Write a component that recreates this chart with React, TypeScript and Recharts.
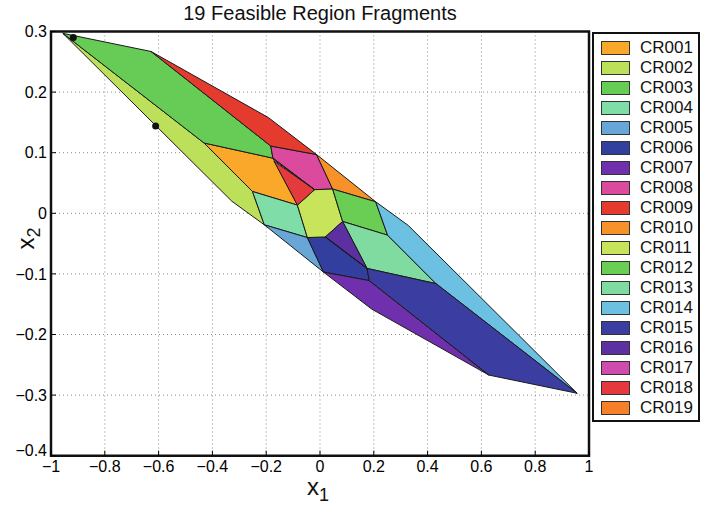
import React from "react";
import {
  ScatterChart,
  Scatter,
  XAxis,
  YAxis,
  CartesianGrid,
  ReferenceArea,
} from "recharts";

const regionNames = [
  "CR001", "CR002", "CR003", "CR004", "CR005", "CR006", "CR007",
  "CR008", "CR009", "CR010", "CR011", "CR012", "CR013", "CR014",
  "CR015", "CR016", "CR017", "CR018", "CR019",
];

const regionColors = [
  "#F9A829", "#BCE05A", "#66CC55", "#7FDDA8", "#68A6D8", "#333F9E", "#7030AE",
  "#DC4A9E", "#E53B2E", "#F7922A", "#C8E45A", "#6ACE55", "#80DBA0", "#6CC0E2",
  "#3C3DA0", "#5D30A2", "#CF4BAE", "#E53A3D", "#F58029",
];

// polygon vertices [x1, x2]
const cr001 = [[-0.431, 0.116], [-0.175, 0.091], [-0.084, 0.0135], [-0.251, 0.036]];
const cr002 = [[-0.956, 0.297], [-0.431, 0.116], [-0.251, 0.036], [-0.207, -0.019], [-0.328, 0.02]];
const cr003 = [[-0.956, 0.297], [-0.628, 0.267], [-0.183, 0.111], [-0.175, 0.091], [-0.431, 0.116]];
const cr004 = [[-0.251, 0.036], [-0.084, 0.0135], [-0.047, -0.04], [-0.207, -0.019]];
const cr005 = [[-0.207, -0.019], [-0.047, -0.04], [0.013, -0.097]];
const cr006 = [[-0.047, -0.04], [0.02, -0.039], [0.175, -0.091], [0.183, -0.111], [0.013, -0.097]];
const cr007 = [[0.013, -0.097], [0.183, -0.111], [0.628, -0.267], [0.192, -0.158]];
const cr008 = [[-0.183, 0.111], [-0.013, 0.097], [0.047, 0.04], [-0.02, 0.039], [-0.175, 0.091]];
const cr009 = [[-0.628, 0.267], [-0.192, 0.158], [-0.013, 0.097], [-0.183, 0.111]];
const cr010 = [[-0.013, 0.097], [0.207, 0.019], [0.047, 0.04]];
const cr011 = [[-0.02, 0.039], [0.047, 0.04], [0.084, -0.0135], [0.02, -0.039], [-0.047, -0.04], [-0.084, 0.0135]];
const cr012 = [[0.047, 0.04], [0.207, 0.019], [0.251, -0.036], [0.084, -0.0135]];
const cr013 = [[0.084, -0.0135], [0.251, -0.036], [0.431, -0.116], [0.175, -0.091]];
const cr014 = [[0.207, 0.019], [0.328, -0.02], [0.956, -0.297], [0.431, -0.116], [0.251, -0.036]];
const cr015 = [[0.183, -0.111], [0.175, -0.091], [0.431, -0.116], [0.956, -0.297], [0.628, -0.267]];
const cr016 = [[0.02, -0.039], [0.084, -0.0135], [0.175, -0.091]];
const cr017 = [[0.02, -0.039], [0.175, -0.091], [0.166, -0.088]];
const cr018 = [[-0.171, 0.086], [-0.02, 0.039], [-0.084, 0.0135]];
const cr019 = [[-0.175, 0.091], [-0.02, 0.039], [-0.168, 0.087]];

const regionVertices = [
  cr001, cr002, cr003, cr004, cr005, cr006, cr007, cr008, cr009, cr010,
  cr011, cr012, cr013, cr014, cr015, cr016, cr017, cr018, cr019,
];

const trajectory = [[-0.917, 0.29], [-0.611, 0.144]];

const xTicks = [-1, -0.8, -0.6, -0.4, -0.2, 0, 0.2, 0.4, 0.6, 0.8, 1];
const yTicks = [-0.4, -0.3, -0.2, -0.1, 0, 0.1, 0.2, 0.3];

const FONT = "'Liberation Sans', Arial, Helvetica, sans-serif";

const fmt = (v: number) => (v < 0 ? "\u2212" + Math.abs(v) : String(v));

const polygonLine = (fill: string) => (props: any) => {
  const pts = (props.points || [])
    .map((p: any) => `${p.x},${p.y}`)
    .join(" ");
  return (
    <polygon
      points={pts}
      fill={fill}
      stroke="#1a1a1a"
      strokeWidth={1}
      strokeLinejoin="round"
    />
  );
};

const noDot = () => <g />;

// y tick: the lowest label sits a bit higher, like the reference
const YTick = (props: any) => {
  const { x, y, payload } = props;
  const shift = payload.value === -0.4 ? -5 : 0;
  return (
    <text
      x={x}
      y={y + shift}
      dy="0.355em"
      textAnchor="end"
      fill="#000"
      fontSize={16}
      fontFamily={FONT}
    >
      {fmt(payload.value)}
    </text>
  );
};

export default function App() {
  return (
    <div
      style={{
        position: "absolute",
        left: 0,
        top: 0,
        width: 701,
        height: 506,
        background: "#fff",
        fontFamily: FONT,
      }}
    >
      <div
        style={{
          position: "absolute",
          left: 120,
          width: 400,
          top: 2,
          textAlign: "center",
          fontSize: 20,
          color: "#111",
        }}
      >
        19 Feasible Region Fragments
      </div>

      <ScatterChart
        width={701}
        height={506}
        margin={{ top: 31.5, right: 112, bottom: 10.3, left: 6 }}
        style={{ position: "absolute", left: 0, top: 0 }}
      >
        <CartesianGrid stroke="#8a8a8a" strokeDasharray="1 3" />
        <XAxis
          type="number"
          dataKey="x"
          domain={[-1, 1]}
          ticks={xTicks}
          tickFormatter={fmt}
          axisLine={false}
          tickLine={{ stroke: "#000" }}
          tickSize={-5}
          tickMargin={10}
          height={40}
          interval={0}
          allowDataOverflow
          tick={{ fill: "#000", fontSize: 16, fontFamily: FONT }}
        />
        <YAxis
          type="number"
          dataKey="y"
          domain={[-0.4, 0.3]}
          ticks={yTicks}
          axisLine={false}
          tickLine={{ stroke: "#000" }}
          tickSize={-5}
          tickMargin={9}
          width={45}
          interval={0}
          allowDataOverflow
          tick={<YTick />}
        />
        {regionVertices.map((verts, i) => (
          <Scatter
            key={regionNames[i]}
            name={regionNames[i]}
            data={verts.map(([x, y]) => ({ x, y }))}
            fill={regionColors[i]}
            line={polygonLine(regionColors[i])}
            lineType="joint"
            shape={noDot}
            isAnimationActive={false}
          />
        ))}
        <Scatter
          name="trajectory"
          data={trajectory.map(([x, y]) => ({ x, y }))}
          fill="#000"
          shape={(p: any) => <circle cx={p.cx} cy={p.cy} r={3.5} fill="#111" />}
          isAnimationActive={false}
        />
        <ReferenceArea
          x1={-1}
          x2={1}
          y1={-0.4}
          y2={0.3}
          fill="none"
          fillOpacity={0}
          stroke="#111"
          strokeWidth={2.5}
        />
      </ScatterChart>

      <div
        style={{
          position: "absolute",
          left: 307,
          top: 481,
          fontSize: 24,
          lineHeight: "12px",
          color: "#111",
        }}
      >
        x<sub style={{ fontSize: 18, lineHeight: "12px", verticalAlign: "-6px" }}>1</sub>
      </div>
      <div
        style={{
          position: "absolute",
          left: 8,
          top: 222,
          fontSize: 24,
          color: "#111",
          transform: "rotate(-90deg)",
          transformOrigin: "center",
          width: 40,
          textAlign: "center",
        }}
      >
        x<sub style={{ fontSize: 18, verticalAlign: "-6px" }}>2</sub>
      </div>

      <div
        style={{
          position: "absolute",
          left: 592,
          top: 32,
          width: 104,
          height: 386,
          border: "2px solid #111",
          background: "#fff",
        }}
      >
        {regionNames.map((name, i) => (
          <div
            key={name}
            style={{
              position: "absolute",
              left: 7,
              top: 4 + i * 20,
              height: 20,
              display: "flex",
              alignItems: "center",
            }}
          >
            <div
              style={{
                width: 27,
                height: 12,
                background: regionColors[i],
                border: "1px solid #333",
              }}
            />
            <span style={{ marginLeft: 10, fontSize: 17, color: "#111" }}>
              {name}
            </span>
          </div>
        ))}
      </div>
    </div>
  );
}
